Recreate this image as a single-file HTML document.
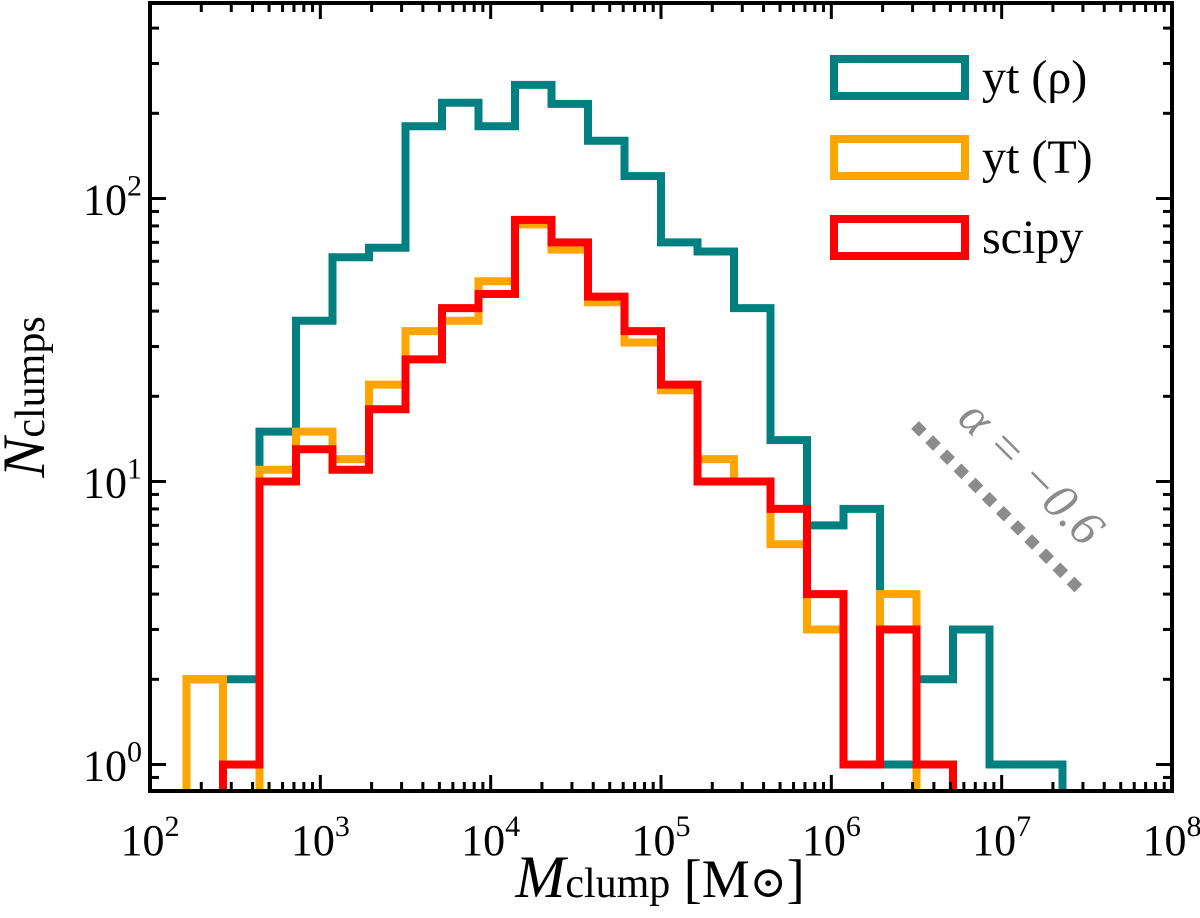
<!DOCTYPE html>
<html><head><meta charset="utf-8"><style>
body{margin:0;background:#fff}
text{font-family:'Liberation Serif','Times New Roman','DejaVu Serif',serif}
</style></head><body>
<svg id="chart" width="1200" height="913" viewBox="0 0 1200 913" xmlns="http://www.w3.org/2000/svg">
<defs><clipPath id="pc"><rect x="150" y="3" width="1022" height="788"/></clipPath></defs>
<g id="series" clip-path="url(#pc)"></g>
<g id="axes"></g>
<g>
<rect x="834" y="59" width="131" height="37" fill="none" stroke="#008080" stroke-width="8"/>
<text x="982" y="93" font-size="48">yt (ρ)</text>
<rect x="834" y="139" width="131" height="37" fill="none" stroke="#FFA500" stroke-width="8"/>
<text x="982" y="173" font-size="48">yt (T)</text>
<rect x="834" y="219" width="131" height="37" fill="none" stroke="#FF0000" stroke-width="8"/>
<text x="982" y="253" font-size="48">scipy</text>
</g>
<line x1="915" y1="425" x2="1080" y2="590" stroke="#8c8c8c" stroke-width="11" stroke-dasharray="11 9"/>
<text transform="translate(1020,484) rotate(45)" text-anchor="middle" font-size="50" font-style="italic" fill="#8c8c8c">α = −0.6</text>
<text x="660" y="897" text-anchor="middle" font-size="54"><tspan font-style="italic" font-size="60">M</tspan><tspan font-size="42">clump</tspan> [M<tspan font-size="44">⊙</tspan>]</text>
<text transform="translate(44,397) rotate(-90)" text-anchor="middle" font-size="54"><tspan font-style="italic" font-size="60">N</tspan><tspan font-size="42">clumps</tspan></text>
</svg>
<script>
const binEdgeExpMin = 2, binEdgeExpMax = 8, binCount = 28;
const ytRho = [0,2,2,15,37,62,67,180,218,180,252,216,160,120,70,65,41,14,7,8,1,2,3,1,1,0,0,0];
const ytT   = [0,2,0,11,15,12,22,34,37,51,81,66,43,31,21,12,10,6,3,1,4,0,0,0,0,0,0,0];
const scipy = [0,0,1,10,13,11,18,27,41,46,84,70,45,34,22,10,10,8,4,1,3,1,0,0,0,0,0,0];
const xTickExps = [2,3,4,5,6,7,8];
const yTickExps = [0,1,2];

const NS='http://www.w3.org/2000/svg';
const L=150,R=1172,T=3,B=791;
const yMinLog=0-(B-764.5)/283, yMaxLog=2+(198.5-T)/283;
function xs(logv){return L+(logv-binEdgeExpMin)/(binEdgeExpMax-binEdgeExpMin)*(R-L);}
function ys(v){ if(v<=0) return B+50; return B-(Math.log10(v)-yMinLog)/(yMaxLog-yMinLog)*(B-T);}
function mk(tag,attrs,parent){const e=document.createElementNS(NS,tag);for(const k in attrs)e.setAttribute(k,attrs[k]);parent.appendChild(e);return e;}
const series=document.getElementById('series');
function edge(i){return binEdgeExpMin+i*(binEdgeExpMax-binEdgeExpMin)/binCount;}
function drawHist(vals,color,name){
  let d='M'+xs(edge(0))+','+(B+50);
  for(let i=0;i<vals.length;i++){const y=ys(vals[i]);d+=' L'+xs(edge(i))+','+y+' L'+xs(edge(i+1))+','+y;}
  d+=' L'+xs(edge(vals.length))+','+(B+50);
  const p=mk('path',{d:d,fill:'none',stroke:color,'stroke-width':8,'stroke-linejoin':'miter'},series);
  
  
}
drawHist(ytRho,'#008080','histogram-yt-rho');
drawHist(ytT,'#FFA500','histogram-yt-T');
drawHist(scipy,'#FF0000','histogram-scipy');

const axes=document.getElementById('axes');
const fr=mk('rect',{x:L,y:T,width:R-L,height:B-T,fill:'none',stroke:'#000','stroke-width':4},axes);


for(let e=binEdgeExpMin;e<=binEdgeExpMax;e++){
  for(let m=1;m<=9;m++){
    if(e===binEdgeExpMax&&m>1)break;
    const x=xs(e+Math.log10(m));const len=m===1?16:9;
    mk('line',{x1:x,y1:B,x2:x,y2:B-len,stroke:'#000','stroke-width':3},axes);
    mk('line',{x1:x,y1:T,x2:x,y2:T+len,stroke:'#000','stroke-width':3},axes);
  }
}
xTickExps.forEach(e=>{
  const t=mk('text',{x:xs(e),y:855,'text-anchor':'middle','font-size':44},axes);
  
  
  t.innerHTML='10<tspan dy="-19" font-size="30">'+e+'</tspan>';
});
for(let e=-1;e<=2;e++){
  for(let m=1;m<=9;m++){
    const v=Math.pow(10,e)*m;const lv=Math.log10(v);
    if(lv<yMinLog||lv>yMaxLog)continue;
    const y=ys(v);const len=m===1?16:9;
    mk('line',{x1:L,y1:y,x2:L+len,y2:y,stroke:'#000','stroke-width':3},axes);
    mk('line',{x1:R,y1:y,x2:R-len,y2:y,stroke:'#000','stroke-width':3},axes);
  }
}
yTickExps.forEach(e=>{
  const t=mk('text',{x:142,y:ys(Math.pow(10,e))+16,'text-anchor':'end','font-size':44},axes);
  
  
  t.innerHTML='10<tspan dy="-19" font-size="30">'+e+'</tspan>';
});
</script>
</body></html>
